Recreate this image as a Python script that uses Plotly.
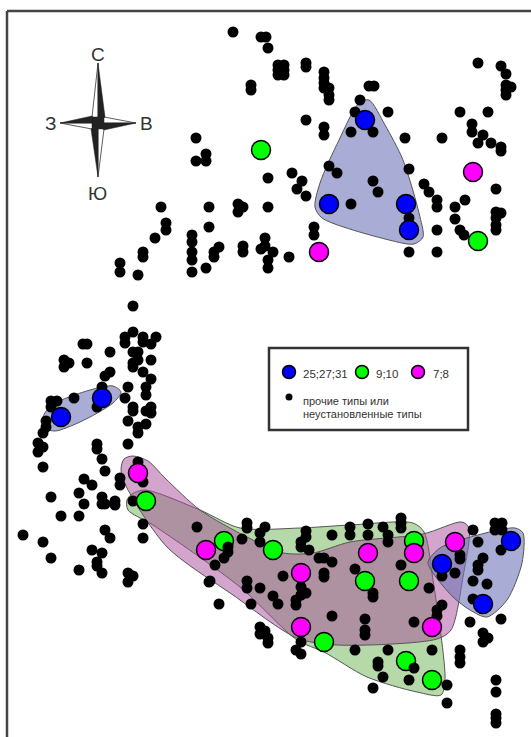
import plotly.graph_objects as go

# Map positions of finds (map units = picture pixels)
other_x = [233,261,266,268,278,284,278,284,278,284,306,306,324,324,324,324,329,329,329,251,251,369,374,360,355,388,351,373,306,324,324,405,442,478,501,506,506,511,506,506,460,488,472,472,483,478,491,501,501,496,465,455,455,460,464,496,501,496,496,496,437,437,424,429,409,373,378,329,337,351,409,437,409,437,292,302,297,306,268,196,206,196,206,161,209,238,243,238,268,166,166,155,209,192,192,192,192,192,206,219,214,214,243,243,265,265,261,273,268,268,289,314,314,143,143,120,120,138,
 133,133,125,125,143,143,156,151,83,87,110,133,138,138,133,133,151,64,64,69,87,110,105,143,151,102,128,146,146,74,125,51,57,51,97,133,133,151,146,151,128,46,46,43,146,138,138,38,38,43,97,97,128,102,43,105,138,143,84,92,120,120,79,51,102,102,105,115,115,84,133,61,79,143,197,23,105,110,143,43,92,102,51,97,97,79,102,128,133,128,209,
 224,215,210,219,247,247,265,242,260,260,306,306,301,301,309,332,350,350,368,368,383,388,388,401,401,401,319,324,332,283,324,324,247,247,260,273,278,301,306,301,296,296,251,355,401,373,373,429,442,437,437,332,365,365,365,414,260,265,260,268,268,301,296,301,355,388,432,378,378,383,409,373,447,447,460,460,460,496,496,496,496,496,470,501,483,483,488,473,495,502,495,502,478,501,460,460,483,478,478,442,455,473,487,473]
other_y = [32,37,37,48,65,65,70,70,75,75,63,67,72,78,83,88,88,95,100,85,90,86,86,100,112,112,132,132,120,127,135,138,138,63,66,74,85,87,90,95,112,112,124,132,135,143,143,147,151,189,200,207,219,230,235,212,213,218,225,230,200,207,184,192,169,181,192,166,173,204,218,230,252,252,173,181,189,196,178,138,154,161,161,207,207,204,207,212,207,223,230,238,227,235,242,252,260,272,268,247,252,257,246,252,238,246,249,252,260,268,257,227,235,252,257,263,272,275,
 306,332,337,343,337,342,337,344,344,344,352,352,352,360,363,367,360,360,367,363,363,372,376,372,379,387,387,387,395,398,398,401,401,407,407,407,411,407,411,413,421,421,427,433,424,427,433,443,452,447,444,449,444,459,467,471,462,482,479,485,478,485,493,497,497,504,504,501,505,504,501,516,516,524,527,535,530,538,538,542,550,553,558,562,566,570,573,573,576,582,582,
 558,565,581,604,523,528,527,539,533,542,531,537,542,547,550,535,527,535,524,535,527,535,542,518,523,528,558,558,562,576,573,577,581,588,588,596,604,587,593,595,600,605,604,569,565,593,597,588,605,610,616,616,619,630,635,622,627,631,634,638,643,642,650,654,650,650,650,662,666,677,680,688,685,703,650,657,663,680,692,714,718,723,622,619,633,642,638,530,523,523,530,530,542,550,555,559,558,565,570,576,573,581,584,599]
other_top_x = [228,228,414]
other_top_y = [547,552,668]

blue_x = [365,329,406,409,61,102,442,511,483]
blue_y = [120,204,204,230,417,398,564,541,604]
green_x = [261,478,146,224,273,414,365,409,324,406,432]
green_y = [150,241,501,541,550,541,581,581,642,661,680]
magenta_x = [473,319,138,206,301,368,414,301,432,455]
magenta_y = [172,252,473,550,573,553,553,627,627,542]

# Outline areas
green_area_x = [132,145,200,240,300,350,413,424,433,445,441,417,367,324,297,240,153,128,127,132]
green_area_y = [494,490,510,528,528,525,523,532,580,680,695,692,677,652,640,587,525,510,500,494]
magenta_area_x = [133,148,165,200,247,283,313,350,423,462,469,463,451,437,337,297,233,167,127,121,124,133]
magenta_area_y = [456,461,478,510,537,553,553,542,534,522,528,577,630,639,645,638,595,547,488,470,459,456]
blue_area1_x = [369,385,403,420,423,414,389,322,315,320,339,359,369]
blue_area1_y = [100,125,160,217,237,244,240,218,207,183,140,103,100]
blue_area2_x = [43,52,90,113,121,113,80,55,45,43]
blue_area2_y = [417,405,390,386,392,403,422,431,428,417]
blue_area3_x = [428,440,467,515,523,522,507,487,470,453,433,428]
blue_area3_y = [562,548,538,528,533,563,600,617,610,597,573,562]

legend_labels = ["25;27;31", "9;10", "7;8"]
legend_note = ["прочие типы или", "неустановленные типы"]
compass_labels = ["С", "В", "Ю", "З"]

BLUE, GREEN, MAGENTA = "#0000ff", "#00ff00", "#ff00ff"
fig = go.Figure()

def area(x, y, fill):
    fig.add_trace(go.Scatter(x=x, y=y, mode="lines", fill="toself", fillcolor=fill,
                             line=dict(color="#555555", width=1, shape="spline", smoothing=0.8),
                             hoverinfo="skip", showlegend=False))

def dots(x, y, color, size, lw):
    fig.add_trace(go.Scatter(x=x, y=y, mode="markers", showlegend=False,
                             marker=dict(color=color, size=size, line=dict(color="#000000", width=lw))))

area(green_area_x, green_area_y, "rgba(181,217,168,1)")
area(magenta_area_x, magenta_area_y, "rgba(167,75,153,0.5)")
for ax, ay in ((blue_area1_x, blue_area1_y), (blue_area2_x, blue_area2_y), (blue_area3_x, blue_area3_y)):
    area(ax, ay, "rgba(112,117,183,0.6)")

dots(other_x, other_y, "#000000", 11, 0)
dots(blue_x, blue_y, BLUE, 19, 1.5)
dots(green_x, green_y, GREEN, 19, 1.5)
dots(magenta_x, magenta_y, MAGENTA, 19, 1.5)
dots(other_top_x, other_top_y, "#000000", 11, 0)

shapes = [
    dict(type="line", x0=7, x1=540, y0=11, y1=11, line=dict(color="#444444", width=2.5)),
    dict(type="line", x0=7, x1=7, y0=11, y1=745, line=dict(color="#444444", width=2.5)),
    dict(type="rect", x0=269, x1=468, y0=348, y1=430, fillcolor="white",
         line=dict(color="#333333", width=2.5), layer="below"),
]
# compass rose: white half and black half on each arm
white_paths = ["M98 63 L92 117 L98 123 Z", "M136 123 L104 117 L98 123 Z",
               "M98 177 L104 129 L98 123 Z", "M60 123 L92 129 L98 123 Z"]
black_paths = ["M98 63 L105 117 L98 123 Z", "M136 123 L104 130 L98 123 Z",
               "M98 177 L91 129 L98 123 Z", "M60 123 L92 116 L98 123 Z",
               "M92 117 L104 117 L104 129 L92 129 Z"]
for p in white_paths:
    shapes.append(dict(type="path", path=p, fillcolor="white", line=dict(color="#333333", width=0.8)))
for p in black_paths:
    shapes.append(dict(type="path", path=p, fillcolor="#222222", line=dict(color="#222222", width=0.5)))

# legend markers
dots([289], [372], BLUE, 13, 1.5)
dots([362], [372], GREEN, 13, 1.5)
dots([418], [372], MAGENTA, 13, 1.5)
dots([289], [397], "#000000", 7, 0)

def label(x, y, text, size=11, color="#333333", anchor="left"):
    return dict(x=x, y=y, text=text, showarrow=False, xanchor=anchor, yanchor="middle",
                xshift=-1, font=dict(family="Liberation Sans", size=size, color=color))

annotations = [
    label(302, 374, legend_labels[0], 11.5), label(375, 374, legend_labels[1], 11.5), label(432, 374, legend_labels[2], 11.5),
    label(302, 401, legend_note[0]), label(302, 414, legend_note[1]),
    label(99, 54, compass_labels[0], 19, anchor="center"), label(147, 123, compass_labels[1], 19, anchor="center"),
    label(98, 193, compass_labels[2], 19, anchor="center"), label(51, 123, compass_labels[3], 19, anchor="center"),
]

fig.update_layout(width=531, height=737, margin=dict(l=0, r=0, t=0, b=0), paper_bgcolor="white",
                  plot_bgcolor="white", shapes=shapes, annotations=annotations, showlegend=False,
                  xaxis=dict(range=[0, 531], visible=False, fixedrange=True),
                  yaxis=dict(range=[737, 0], visible=False, fixedrange=True))
fig.write_html("out.html", config={"displayModeBar": False},
               post_script="document.body.style.margin='0';document.body.style.overflow='hidden';")
